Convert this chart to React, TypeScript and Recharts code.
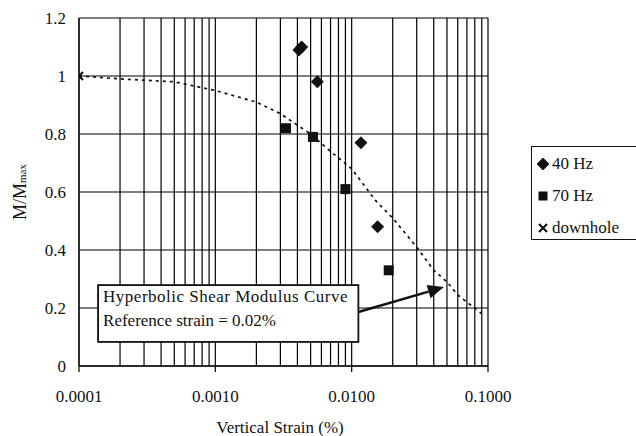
import {
  ScatterChart,
  Scatter,
  XAxis,
  YAxis,
  CartesianGrid,
  Legend,
  Label,
  ReferenceArea,
  ReferenceLine,
} from "recharts"

const FONT = "'Liberation Serif', 'Times New Roman', serif"
const INK = "#111"

// log grid positions (1..9 x each decade)
const xTicks = [
  0.0001, 0.0002, 0.0003, 0.0004, 0.0005, 0.0006, 0.0007, 0.0008, 0.0009,
  0.001, 0.002, 0.003, 0.004, 0.005, 0.006, 0.007, 0.008, 0.009,
  0.01, 0.02, 0.03, 0.04, 0.05, 0.06, 0.07, 0.08, 0.09, 0.1,
]
const decadeTicks = [0.0001, 0.001, 0.01, 0.1]
const decadeLabels = ["0.0001", "0.0010", "0.0100", "0.1000"]
const yTicks = [0, 0.2, 0.4, 0.6, 0.8, 1, 1.2]

const hz40Strain = [0.0041, 0.0043, 0.0056, 0.0117, 0.0155]
const hz40Ratio = [1.09, 1.1, 0.98, 0.77, 0.48]

const hz70Strain = [0.0033, 0.0052, 0.009, 0.0187]
const hz70Ratio = [0.82, 0.79, 0.61, 0.33]

const downholeStrain = [0.0001]
const downholeRatio = [1.0]

const curveStrain = [
  0.0001, 0.0002, 0.0005, 0.001, 0.002, 0.003, 0.005, 0.007, 0.01, 0.015,
  0.02, 0.03, 0.04, 0.05, 0.06, 0.07, 0.08, 0.09,
]
const curveRatio = [
  1.0, 0.99, 0.98, 0.95, 0.91, 0.87, 0.8, 0.74, 0.68, 0.57,
  0.51, 0.41, 0.33, 0.29, 0.245, 0.22, 0.2, 0.18,
]

const zip = (xs: number[], ys: number[]) => xs.map((x, i) => ({ x, y: ys[i] }))

const hz40 = zip(hz40Strain, hz40Ratio)
const hz70 = zip(hz70Strain, hz70Ratio)
const downhole = zip(downholeStrain, downholeRatio)
const curve = zip(curveStrain, curveRatio)

const Diamond = ({ cx, cy }: any) => (
  <polygon
    points={`${cx},${cy - 6.5} ${cx + 6.5},${cy} ${cx},${cy + 6.5} ${cx - 6.5},${cy}`}
    fill={INK}
  />
)
const Square = ({ cx, cy }: any) => (
  <rect x={cx - 5} y={cy - 5} width={10} height={10} fill={INK} />
)
const Cross = ({ cx, cy }: any) => (
  <g stroke={INK} strokeWidth={2.2}>
    <line x1={cx - 4} y1={cy - 4} x2={cx + 4} y2={cy + 4} />
    <line x1={cx - 4} y1={cy + 4} x2={cx + 4} y2={cy - 4} />
  </g>
)
const NoDot = () => <g />

const XTick = ({ x, y, payload }: any) => {
  const idx = decadeTicks.findIndex((d) => Math.abs(d - payload.value) < 1e-9)
  if (idx < 0) return <g />
  return (
    <g>
      <line x1={x} y1={y - 24} x2={x} y2={y - 18} stroke={INK} strokeWidth={1.3} />
      <text x={x} y={y} dy="0.71em" textAnchor="middle" fontFamily={FONT} fontSize={17} fill={INK}>
        {decadeLabels[idx]}
      </text>
    </g>
  )
}

const YTitle = () => (
  <text
    x={26}
    y={192}
    transform="rotate(-90 26 192)"
    textAnchor="middle"
    fontFamily={FONT}
    fontSize={18}
    fill={INK}
  >
    M/M
    <tspan fontSize={11}>max</tspan>
  </text>
)

const XTitle = () => (
  <text x={280} y={433} textAnchor="middle" fontFamily={FONT} fontSize={17} fill={INK}>
    Vertical Strain (%)
  </text>
)

const NoteBox = ({ x, y, width, height }: any) => (
  <g>
    <rect x={x} y={y} width={width} height={height} fill="#fff" stroke={INK} strokeWidth={1.8} />
    <text x={x + 5} y={y + 17} fontFamily={FONT} fontSize={17} fill={INK} letterSpacing={0.5}>
      Hyperbolic Shear Modulus Curve
    </text>
    <text x={x + 5} y={y + 41} fontFamily={FONT} fontSize={17} fill={INK}>
      Reference strain = 0.02%
    </text>
  </g>
)

const Arrow = ({ x1, y1, x2, y2 }: any) => {
  const a = Math.atan2(y2 - y1, x2 - x1)
  const len = 16
  const w = 7
  const bx = x2 - len * Math.cos(a)
  const by = y2 - len * Math.sin(a)
  const px = -Math.sin(a) * w
  const py = Math.cos(a) * w
  return (
    <g>
      <line x1={x1} y1={y1} x2={bx} y2={by} stroke={INK} strokeWidth={2.5} />
      <polygon points={`${x2},${y2} ${bx + px},${by + py} ${bx - px},${by - py}`} fill={INK} />
    </g>
  )
}

const legendItems = [
  { name: "40 Hz", mark: "diamond" },
  { name: "70 Hz", mark: "square" },
  { name: "downhole", mark: "cross" },
]

const LegendBox = () => (
  <div
    style={{
      border: `1px solid ${INK}`,
      borderRight: "none",
      width: 105,
      height: 94,
      boxSizing: "border-box",
      paddingTop: 1,
      paddingLeft: 5,
      fontFamily: FONT,
      fontSize: 17,
      color: INK,
      overflow: "hidden",
      background: "#fff",
    }}
  >
    {legendItems.map((it) => (
      <div key={it.name} style={{ display: "flex", alignItems: "center", height: 32, whiteSpace: "nowrap" }}>
        <svg width={12} height={12} style={{ marginRight: 3 }}>
          {it.mark === "diamond" && <Diamond cx={6} cy={6} />}
          {it.mark === "square" && <rect x={1.5} y={1.5} width={9} height={9} fill={INK} />}
          {it.mark === "cross" && <Cross cx={6} cy={6} />}
        </svg>
        <span>{it.name}</span>
      </div>
    ))}
  </div>
)

export default function App() {
  return (
    <div style={{ position: "absolute", left: 0, top: 0, width: 636, height: 436, background: "#fff", overflow: "hidden" }}>
      <ScatterChart width={636} height={436} margin={{ top: 18, right: 148, bottom: 40, left: 0 }}>
        <CartesianGrid stroke="#000" strokeWidth={1.2} vertical horizontal />
        <XAxis
          type="number"
          dataKey="x"
          scale="log"
          domain={[0.0001, 0.1]}
          allowDataOverflow
          ticks={xTicks}
          interval={0}
          height={30}
          tickSize={0}
          tickMargin={24}
          tick={<XTick />}
          axisLine={{ stroke: INK, strokeWidth: 1.3 }}
        >
          <Label content={<XTitle />} />
        </XAxis>
        <YAxis
          type="number"
          dataKey="y"
          domain={[0, 1.2]}
          ticks={yTicks}
          interval={0}
          width={79}
          tickSize={0}
          tickMargin={13}
          tickLine={false}
          axisLine={{ stroke: INK, strokeWidth: 1.3 }}
          tick={{ fontFamily: FONT, fontSize: 17, fill: INK }}
        >
          <Label content={<YTitle />} />
        </YAxis>
        <ReferenceArea x1={0.000138} x2={0.0112} y1={0.083} y2={0.279} shape={<NoteBox />} />
        <ReferenceLine
          segment={[
            { x: 0.0112, y: 0.186 },
            { x: 0.0475, y: 0.272 },
          ]}
          shape={<Arrow />}
        />
        <Scatter
          name="curve"
          data={curve}
          line={{ stroke: INK, strokeWidth: 1.7, strokeDasharray: "3 4" }}
          shape={<NoDot />}
          legendType="none"
          isAnimationActive={false}
        />
        <Scatter name="40 Hz" data={hz40} shape={<Diamond />} isAnimationActive={false} />
        <Scatter name="70 Hz" data={hz70} shape={<Square />} isAnimationActive={false} />
        <Scatter name="downhole" data={downhole} shape={<Cross />} isAnimationActive={false} />
        <Legend
          layout="horizontal"
          verticalAlign="middle"
          align="center"
          wrapperStyle={{ left: 531, top: 146, width: 105 }}
          content={<LegendBox />}
        />
      </ScatterChart>
    </div>
  )
}
